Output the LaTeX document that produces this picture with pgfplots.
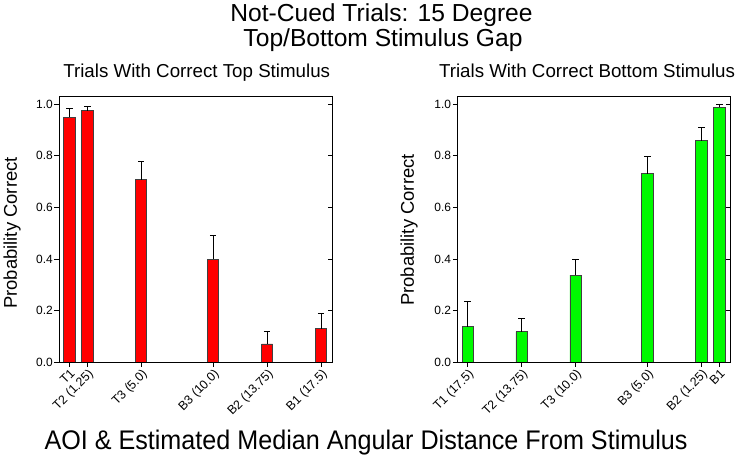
\documentclass[border=0pt]{standalone}
\usepackage{pgfplots}
\pgfplotsset{compat=1.18}
\usepackage{fontspec}
\setmainfont{Liberation Sans}
\newfontfamily\narrowfont[FakeStretch=0.935]{Liberation Sans}
\definecolor{barred}{RGB}{255,0,0}
\definecolor{bargreen}{RGB}{0,250,0}
\pgfplotsset{
  panel/.style={
    scale only axis, width=273bp, height=265.3bp,
    xmin=-0.72, xmax=18.26, ymin=0, ymax=1.028,
    ytick={0,0.2,0.4,0.6,0.8,1.0},
    yticklabel style={/pgf/number format/fixed, /pgf/number format/fixed zerofill, /pgf/number format/precision=1, /pgf/number format/assume math mode=true, inner sep=1.5pt, font=\fontsize{12}{14}\selectfont},
    ytick pos=left, xtick pos=bottom, tick align=outside,
    major tick length=4.5bp,
    tick style={black, line width=0.9pt},
    axis line style={black, line width=1pt},
    xticklabel style={rotate=45, anchor=north east, inner sep=1pt, font=\fontsize{12.5}{14}\selectfont},
  },
  rticks/.style={
    scale only axis, width=273bp, height=265.3bp,
    xmin=-0.72, xmax=18.26, ymin=0, ymax=1.028,
    ytick={0,0.2,0.4,0.6,0.8,1.0}, yticklabels={}, xtick=\empty,
    ytick pos=right, tick align=inside, major tick length=4.5bp,
    tick style={black, line width=0.9pt},
    axis line style={black, line width=1pt},
  },
  bars/.style={
    ybar, bar width=0.78, draw=black!75, line width=0.8pt,
    error bars/y dir=plus, error bars/y explicit,
    error bars/error bar style={black, line width=1pt},
    error bars/error mark options={black, line width=1pt, mark size=3.2bp, rotate=90},
  },
}
\begin{document}
\begin{tikzpicture}[x=1bp,y=1bp]
\path[use as bounding box] (0,0) rectangle (743,465);

% titles
\node[anchor=base] at (381.5,443.3) {\fontsize{24.7}{28}\selectfont Not-Cued Trials: 15 Degree};
\node[anchor=base] at (383,418.3) {\fontsize{24.7}{28}\selectfont Top/Bottom Stimulus Gap};
\node[anchor=base] at (196.7,387.7) {\fontsize{18.8}{21}\selectfont Trials With Correct Top Stimulus};
\node[anchor=base] at (587,387.7) {\fontsize{18.8}{21}\selectfont Trials With Correct Bottom Stimulus};
\node[anchor=base] at (366,15) {\narrowfont\fontsize{27}{30}\selectfont AOI \& Estimated Median Angular Distance From Stimulus};
\node[rotate=90] at (12,232) {\fontsize{18.5}{21}\selectfont Probability Correct};
\node[rotate=90] at (409,235) {\fontsize{18.5}{21}\selectfont Probability Correct};

% left panel
\begin{axis}[panel, at={(59bp,102.7bp)}, anchor=south west,
  xtick={0,1.25,5,10,13.75,17.5},
  xticklabels={T1, T2 (1.25), T3 (5.0), B3 (10.0), B2 (13.75), B1 (17.5)}]
\addplot[fill=barred, bars] coordinates {
  (0,0.950) +- (0,0.033)
  (1.25,0.975) +- (0,0.015)
  (5,0.707) +- (0,0.070)
  (10,0.400) +- (0,0.090)
  (13.75,0.071) +- (0,0.048)
  (17.5,0.130) +- (0,0.060)
};
\end{axis}
\begin{axis}[rticks, at={(59bp,102.7bp)}, anchor=south west]
\end{axis}

% right panel
\begin{axis}[panel, at={(457.3bp,102.7bp)}, anchor=south west,
  xtick={0,3.75,7.5,12.5,16.25,17.5},
  xticklabels={T1 (17.5), T2 (13.75), T3 (10.0), B3 (5.0), B2 (1.25), B1}]
\addplot[fill=bargreen, bars] coordinates {
  (0,0.138) +- (0,0.098)
  (3.75,0.119) +- (0,0.051)
  (7.5,0.338) +- (0,0.061)
  (12.5,0.730) +- (0,0.067)
  (16.25,0.859) +- (0,0.052)
  (17.5,0.988) +- (0,0.012)
};
\end{axis}
\begin{axis}[rticks, at={(457.3bp,102.7bp)}, anchor=south west]
\end{axis}
\end{tikzpicture}
\end{document}
